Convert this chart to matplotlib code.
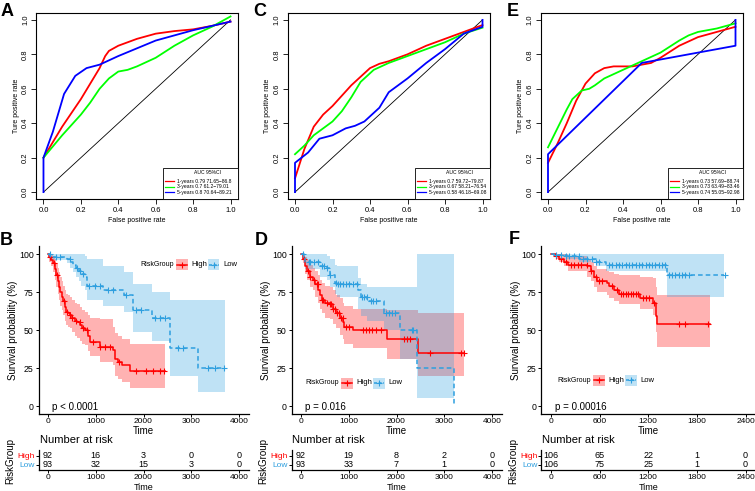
import numpy as np
import matplotlib
matplotlib.use("Agg")
import matplotlib.pyplot as plt
from matplotlib.patches import Rectangle
from matplotlib.lines import Line2D

plt.rcParams['font.family'] = ['Liberation Sans', 'DejaVu Sans']

W, H = 755, 491
RED = '#FF0000'
BLUE = '#2E9FDF'
ROC_COLORS = ['#FF0000', '#00FF00', '#0000FF']

# ---------------- ROC data (false positive rate, true positive rate) ----------------
a1_fpr = [0, 0.05, 0.1, 0.2, 0.3, 0.33, 0.35, 0.4, 0.5, 0.6, 0.7, 0.8, 0.9, 1.0]
a1_tpr = [0.2, 0.29, 0.38, 0.54, 0.72, 0.79, 0.82, 0.85, 0.89, 0.92, 0.935, 0.945, 0.965, 0.99]
a3_fpr = [0, 0.1, 0.2, 0.25, 0.3, 0.35, 0.4, 0.45, 0.5, 0.55, 0.6, 0.7, 0.8, 0.9, 1.0]
a3_tpr = [0.2, 0.33, 0.45, 0.52, 0.6, 0.66, 0.7, 0.71, 0.73, 0.755, 0.78, 0.85, 0.91, 0.96, 1.02]
a5_fpr = [0, 0, 0.05, 0.11, 0.17, 0.23, 0.3, 0.4, 0.5, 0.6, 0.7, 0.8, 0.9, 1.0]
a5_tpr = [0, 0.2, 0.35, 0.57, 0.675, 0.72, 0.74, 0.79, 0.835, 0.88, 0.91, 0.94, 0.965, 0.99]
a_labels = ['1-years 0.79 71.65\u221286.8', '3-years 0.7 61.2\u221279.01', '5-years 0.8 70.64\u221289.21']

c1_fpr = [0, 0.05, 0.1, 0.15, 0.2, 0.3, 0.4, 0.45, 0.5, 0.6, 0.7, 0.8, 0.9, 1.0]
c1_tpr = [0.08, 0.25, 0.38, 0.45, 0.5, 0.62, 0.72, 0.745, 0.76, 0.8, 0.85, 0.89, 0.93, 0.97]
c3_fpr = [0, 0.05, 0.1, 0.2, 0.25, 0.3, 0.35, 0.42, 0.5, 0.6, 0.7, 0.8, 0.9, 1.0]
c3_tpr = [0.22, 0.27, 0.33, 0.41, 0.47, 0.55, 0.64, 0.71, 0.75, 0.79, 0.83, 0.87, 0.92, 0.955]
c5_fpr = [0, 0, 0.07, 0.13, 0.2, 0.27, 0.32, 0.37, 0.45, 0.5, 0.6, 0.7, 0.8, 0.9, 1.0, 1.0]
c5_tpr = [0, 0.17, 0.23, 0.31, 0.33, 0.37, 0.385, 0.41, 0.49, 0.58, 0.66, 0.75, 0.83, 0.92, 0.96, 1.0]
c_labels = ['1-years 0.7 59.72\u221279.87', '3-years 0.67 58.21\u221276.54', '5-years 0.58 46.18\u221269.08']

e1_fpr = [0, 0.05, 0.1, 0.15, 0.2, 0.25, 0.3, 0.35, 0.45, 0.5, 0.55, 0.6, 0.7, 0.8, 0.9, 1.0]
e1_tpr = [0.17, 0.28, 0.4, 0.53, 0.63, 0.69, 0.72, 0.73, 0.73, 0.74, 0.75, 0.78, 0.85, 0.9, 0.93, 0.96]
e3_fpr = [0, 0.05, 0.1, 0.13, 0.18, 0.22, 0.25, 0.3, 0.4, 0.5, 0.6, 0.7, 0.75, 0.8, 0.9, 1.0]
e3_tpr = [0.26, 0.37, 0.48, 0.54, 0.59, 0.6, 0.62, 0.66, 0.71, 0.76, 0.81, 0.88, 0.91, 0.93, 0.95, 0.98]
e5_fpr = [0, 0, 0.5, 1.0, 1.0]
e5_tpr = [0, 0.22, 0.75, 0.85, 1.0]
e_labels = ['1-years 0.73 57.69\u221288.74', '3-years 0.73 63.49\u221283.46', '5-years 0.74 55.05\u221292.98']

# ---------------- Kaplan-Meier data (time, survival %, lower CI, upper CI) ----------------
bH_t = [0, 30, 60, 100, 140, 175, 200, 230, 260, 290, 315, 350, 385, 420, 455, 500, 560, 610, 665, 720, 770, 840, 875, 1085, 1365, 1400, 1470, 1540, 1715]
bH_s = [100, 98, 96, 94, 90, 86, 82, 78, 75, 72, 69, 65, 62, 61, 60, 58, 56, 55, 53, 51, 50, 46, 42, 39, 37, 31, 29, 27, 23]
bH_lo = [100, 95, 92, 88, 83, 78, 74, 70, 66, 63, 60, 56, 53, 52, 51, 49, 46, 45, 43, 41, 40, 36, 33, 29, 27, 20, 18, 16, 12]
bH_hi = [100, 100, 100, 99, 97, 94, 91, 88, 85, 82, 79, 76, 74, 73, 72, 70, 68, 67, 65, 63, 62, 60, 58, 57, 52, 48, 46, 44, 41]
bH_end = 2450
bH_cens = [40, 130, 190, 330, 400, 470, 510, 580, 660, 740, 820, 950, 1090, 1190, 1300, 1490, 1850, 2060, 2200, 2350, 2430]

bL_t = [0, 40, 400, 460, 520, 580, 640, 700, 770, 820, 1150, 1600, 1780, 2170, 2550, 3140]
bL_s = [100, 98, 97, 95, 93, 91, 89, 87, 85, 79, 76, 73, 63, 58, 38, 25]
bL_lo = [100, 96, 94, 91, 88, 85, 82, 79, 76, 70, 66, 62, 49, 43, 20, 9]
bL_hi = [100, 100, 100, 100, 100, 100, 100, 100, 99, 97, 92, 88, 80, 75, 70, 70]
bL_end = 3700
bL_cens = [35, 170, 250, 450, 600, 660, 730, 860, 980, 1080, 1260, 1360, 1630, 1850, 1940, 2240, 2340, 2450, 2730, 2830, 3360, 3500, 3680]

dH_t = [0, 40, 90, 120, 190, 260, 295, 365, 400, 430, 500, 600, 670, 740, 810, 880, 910, 1085, 1810, 2460]
dH_s = [100, 97, 92, 89, 85, 83, 80, 76, 73, 70, 68, 67, 64, 61, 58, 55, 52, 50, 44, 35]
dH_lo = [100, 94, 87, 83, 78, 76, 72, 68, 64, 61, 58, 57, 54, 51, 47, 44, 41, 38, 31, 20]
dH_hi = [100, 100, 98, 96, 93, 91, 89, 86, 83, 81, 79, 78, 76, 73, 71, 68, 66, 64, 63, 61]
dH_end = 3420
dH_cens = [55, 137, 192, 261, 329, 364, 432, 467, 535, 604, 638, 672, 707, 755, 796, 844, 878, 947, 1015,
           1290, 1358, 1427, 1496, 1564, 1667, 2148, 2216, 2285, 2696, 3348, 3417]

dL_t = [0, 55, 90, 400, 535, 600, 710, 755, 1190, 1255, 1390, 1735, 2080, 2420, 3200]
dL_s = [100, 98.5, 95, 92, 91, 86, 81, 80, 76, 72, 69, 61, 50, 25, 0]
dL_lo = [100, 96, 90, 85, 83, 78, 74, 72, 64, 59, 56, 50, 31, 5, 5]
dL_hi = [100, 100, 100, 100, 99, 97, 93, 92, 84, 80, 78, 78, 78, 100, 100]
dL_end = 3200
dL_cens = [41, 158, 192, 261, 364, 432, 480, 549, 604, 741, 775, 823, 878, 947, 1015, 1098, 1166, 1276,
           1324, 1372, 1461, 1509, 1564, 1770, 1838, 1907, 1976, 2319, 2353]

fH_t = [0, 60, 100, 165, 205, 450, 490, 530, 565, 695, 715, 775, 840, 1100, 1255, 1295, 1310]
fH_s = [100, 99, 97, 95, 93, 92, 89, 85, 82, 81, 79, 76, 74, 71, 68, 59, 54]
fH_lo = [100, 97, 95, 92, 89, 85, 82, 78, 75, 73, 71, 69, 67, 64, 60, 49, 39]
fH_hi = [100, 100, 100, 100, 99, 97, 95, 92, 90, 89, 88, 87, 86, 85, 84, 78, 73]
fH_end = 1960
fH_cens = [61, 123, 184, 245, 286, 327, 368, 438, 491, 552, 593, 634, 757, 818, 859, 888, 920, 953, 982,
           1015, 1043, 1076, 1133, 1166, 1207, 1268, 1575, 1656, 1943]

fL_t = [0, 40, 180, 350, 550, 675, 1430]
fL_s = [100, 99.5, 98.5, 97, 95, 93, 86]
fL_lo = [100, 98.5, 97, 95, 92, 89, 72]
fL_hi = [100, 100, 100, 100, 100, 100, 100]
fL_end = 2130
fL_cens = [61, 123, 184, 225, 286, 348, 389, 450, 511, 552, 593, 716, 757, 798, 839, 880, 920, 961, 1002,
           1043, 1084, 1125, 1166, 1207, 1248, 1288, 1329, 1370, 1411, 1452, 1493, 1534, 1575, 1616, 1657,
           1697, 2147]

# numbers at risk
b_risk_high = [92, 16, 3, 0, 0]
b_risk_low = [93, 32, 15, 3, 0]
d_risk_high = [92, 19, 8, 2, 0]
d_risk_low = [93, 33, 7, 1, 0]
f_risk_high = [106, 65, 22, 1, 0]
f_risk_low = [106, 75, 25, 1, 0]
ticks_4000 = [0, 1000, 2000, 3000, 4000]
ticks_2400 = [0, 600, 1200, 1800, 2400]


def px_axes(fig, l, t, r, b):
    return fig.add_axes([l / W, 1 - b / H, (r - l) / W, (b - t) / H])


def ftext(fig, x, y, s, **kw):
    return fig.text(x / W, 1 - y / H, s, **kw)


def roc_panel(fig, l, r, curves, labels, letter, lxy):
    t, b = 13, 199
    ax = px_axes(fig, l, t, r, b)
    ax.plot([0, 1], [0, 1], color='black', lw=0.6)
    for (x, y), c in zip(curves, ROC_COLORS):
        ax.plot(x, y, color=c, lw=1.3)
    ax.set_xlim(-0.04, 1.04)
    ax.set_ylim(-0.04, 1.04)
    tk = [0, 0.2, 0.4, 0.6, 0.8, 1.0]
    ax.set_xticks(tk)
    ax.set_yticks(tk)
    ax.set_xticklabels(['%.1f' % v for v in tk])
    ax.set_yticklabels(['%.1f' % v for v in tk], rotation=90, va='center')
    ax.tick_params(length=3.5, width=0.6, labelsize=5.5, pad=2.5)
    ax.tick_params(axis='y', pad=1.5)
    for sp in ax.spines.values():
        sp.set_linewidth(0.8)
    ftext(fig, (l + r) / 2, 221, 'False positive rate', fontsize=5, ha='center', va='center')
    ftext(fig, l - 20, (t + b) / 2, 'Ture positive rate', fontsize=5, ha='center', va='center', rotation=90)
    ftext(fig, lxy[0], lxy[1], letter, fontsize=13, fontweight='bold', ha='center', va='center')
    # legend box
    bl, bt = r - 75.5, 168.3
    fig.add_artist(Rectangle((bl / W, 1 - b / H), (r - bl) / W, (b - bt) / H,
                             transform=fig.transFigure, facecolor='white', edgecolor='black', lw=0.6))
    ftext(fig, bl + 45, 173, 'AUC 95%CI', fontsize=3.6, ha='center', va='center')
    for i, (lab, c) in enumerate(zip(labels, ROC_COLORS)):
        yy = 181 + i * 5.7
        fig.add_artist(Line2D([(bl + 2.5) / W, (bl + 11.5) / W], [1 - yy / H, 1 - yy / H],
                              transform=fig.transFigure, color=c, lw=0.9))
        ftext(fig, bl + 14.5, yy, lab, fontsize=3.6, ha='left', va='center')
    return ax


def step_at(t, s, q):
    idx = np.searchsorted(t, q, side='right') - 1
    return np.asarray(s, dtype=float)[idx]


def km_group(ax, t, s, lo, hi, end, cens, color, dashed):
    tt = list(t)
    ss, ll, hh = list(s), list(lo), list(hi)
    if end > tt[-1]:
        tt.append(end)
        ss.append(ss[-1])
        ll.append(ll[-1])
        hh.append(hh[-1])
    ax.fill_between(tt, ll, hh, step='post', color=color, alpha=0.3, lw=0)
    kw = dict(color=color, lw=1.1)
    if dashed:
        kw['dashes'] = (3, 2)
    ax.step(tt, ss, where='post', **kw)
    ax.plot(cens, step_at(t, s, cens), '+', color=color, ms=4, mew=0.8)


def km_legend(fig, x0, y):
    ftext(fig, x0, y, 'RiskGroup', fontsize=5, ha='left', va='center')
    for dx, c, lab, dashed in [(36, RED, 'High', False), (68, BLUE, 'Low', True)]:
        bx = x0 + dx
        fig.add_artist(Rectangle((bx / W, 1 - (y + 5.5) / H), 11.5 / W, 11 / H,
                                 transform=fig.transFigure, facecolor=c, alpha=0.3, lw=0))
        ln = Line2D([(bx + 0.5) / W, (bx + 11) / W], [1 - y / H, 1 - y / H], transform=fig.transFigure,
                    color=c, lw=1.1)
        if dashed:
            ln.set_dashes((2, 1))
        fig.add_artist(ln)
        fig.add_artist(Line2D([(bx + 5.75) / W], [1 - y / H], transform=fig.transFigure, color=c,
                              marker='+', ms=4, mew=0.8, lw=0))
        ftext(fig, bx + 15, y, lab, fontsize=5.5, ha='left', va='center')


def km_panel(fig, l, r, xlim, xticks, high, low, letter, lxy, leg, pval, risk_high, risk_low):
    ax = px_axes(fig, l, 246.4, r, 413.6)
    km_group(ax, *high, RED, False)
    km_group(ax, *low, BLUE, True)
    ax.set_xlim(*xlim)
    ax.set_ylim(-5, 105)
    ax.set_xticks(xticks)
    ax.set_yticks([0, 25, 50, 75, 100])
    for side in ['top', 'right']:
        ax.spines[side].set_visible(False)
    for side in ['left', 'bottom']:
        ax.spines[side].set_linewidth(0.9)
    ax.tick_params(length=2, width=0.7, labelsize=6.3, pad=1.5)
    ax.tick_params(axis='x', labelsize=6)
    cx = (l + r) / 2
    ftext(fig, cx, 431, 'Time', fontsize=7, ha='center', va='center')
    ftext(fig, l - 25.5, 330, 'Survival probability (%)', fontsize=7, ha='center', va='center', rotation=90)
    ftext(fig, lxy[0], lxy[1], letter, fontsize=13, fontweight='bold', ha='center', va='center')
    ftext(fig, l + 13.5, 407, pval, fontsize=7, ha='left', va='center')
    km_legend(fig, leg[0], leg[1])

    # risk table
    tb = px_axes(fig, l, 450.2, r, 470)
    tb.set_xlim(*xlim)
    tb.set_ylim(0.4, 2.6)
    tb.set_xticks(xticks)
    tb.set_yticks([2, 1])
    tb.set_yticklabels(['High', 'Low'])
    for lab, c in zip(tb.get_yticklabels(), [RED, BLUE]):
        lab.set_color(c)
    for x, n in zip(xticks, risk_high):
        tb.text(x, 2, str(n), fontsize=6.5, ha='center', va='center')
    for x, n in zip(xticks, risk_low):
        tb.text(x, 1, str(n), fontsize=6.5, ha='center', va='center')
    for side in ['top', 'right']:
        tb.spines[side].set_visible(False)
    for side in ['left', 'bottom']:
        tb.spines[side].set_linewidth(0.9)
    tb.tick_params(length=2, width=0.7, labelsize=6, pad=0.8)
    ftext(fig, l + 1, 440, 'Number at risk', fontsize=8, ha='left', va='center')
    ftext(fig, cx, 487.3, 'Time', fontsize=6.5, ha='center', va='center')
    ftext(fig, l - 28.5, 461, 'RiskGroup', fontsize=7, ha='center', va='center', rotation=90)


fig = plt.figure(figsize=(7.55, 4.91), dpi=100)

roc_panel(fig, 36, 238, [(a1_fpr, a1_tpr), (a3_fpr, a3_tpr), (a5_fpr, a5_tpr)], a_labels, 'A', (7, 12))
roc_panel(fig, 287.5, 490, [(c1_fpr, c1_tpr), (c3_fpr, c3_tpr), (c5_fpr, c5_tpr)], c_labels, 'C', (259.5, 12))
roc_panel(fig, 540.5, 743, [(e1_fpr, e1_tpr), (e3_fpr, e3_tpr), (e5_fpr, e5_tpr)], e_labels, 'E', (513, 12))

km_panel(fig, 38.5, 248.5, (-200, 4200), ticks_4000,
         (bH_t, bH_s, bH_lo, bH_hi, bH_end, bH_cens), (bL_t, bL_s, bL_lo, bL_hi, bL_end, bL_cens),
         'B', (6.5, 240.5), (140, 264.5), 'p < 0.0001', b_risk_high, b_risk_low)
km_panel(fig, 291.5, 501.5, (-200, 4200), ticks_4000,
         (dH_t, dH_s, dH_lo, dH_hi, dH_end, dH_cens), (dL_t, dL_s, dL_lo, dL_hi, dL_end, dL_cens),
         'D', (261, 240.5), (305, 383), 'p = 0.016', d_risk_high, d_risk_low)
km_panel(fig, 541.3, 755, (-120, 2517), ticks_2400,
         (fH_t, fH_s, fH_lo, fH_hi, fH_end, fH_cens), (fL_t, fL_s, fL_lo, fL_hi, fL_end, fL_cens),
         'F', (514, 240), (557, 380), 'p = 0.00016', f_risk_high, f_risk_low)

fig.savefig('out.png', dpi=100)
